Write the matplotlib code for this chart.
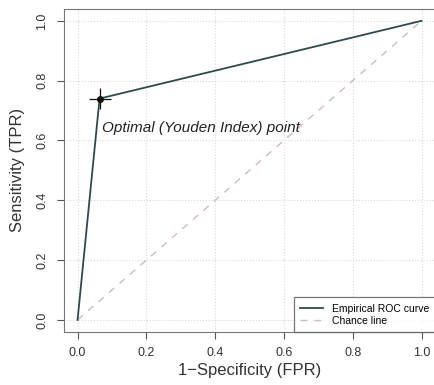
import numpy as np
import matplotlib.pyplot as plt

plt.rcParams['font.family'] = ['Liberation Sans', 'DejaVu Sans']

# empirical ROC points
fpr = [0.0, 0.064, 1.0]
tpr = [0.0, 0.74, 1.0]
chance = [0.0, 1.0]
opt_x = 0.064
opt_y = 0.74
ticks = [0.0, 0.2, 0.4, 0.6, 0.8, 1.0]
tick_labels = ['0.0', '0.2', '0.4', '0.6', '0.8', '1.0']

fig = plt.figure(figsize=(4.34, 3.85), dpi=100)
ax = fig.add_axes([0.147, 0.138, 0.856, 0.839])

ax.grid(True, linestyle=':', color='#d8d8d8', linewidth=0.8)
ax.plot(chance, chance, linestyle=(0, (5, 5)), color='#cdbcbc', linewidth=1.0, label='Chance line')
ax.plot(fpr, tpr, color='#2f4a48', linewidth=1.3, label='Empirical ROC curve')
ax.errorbar([opt_x], [opt_y], xerr=[0.032], yerr=[0.035], fmt='o', color='#111111',
            markersize=4, elinewidth=0.9, capsize=0)
ax.text(opt_x + 0.008, opt_y - 0.10, 'Optimal (Youden Index) point', style='italic',
        fontsize=11, color='#222222', va='center')

ax.set_xlim(-0.04, 1.04)
ax.set_ylim(-0.04, 1.04)
ax.set_xticks(ticks)
ax.set_xticklabels(tick_labels)
ax.set_yticks(ticks)
ax.set_yticklabels(tick_labels, rotation=90, va='center')
ax.tick_params(colors='#555555', labelcolor='#333333', labelsize=9, length=5, pad=6)
for s in ax.spines.values():
    s.set_color('#777777')
ax.set_xlabel('1\u2212Specificity (FPR)', fontsize=12, color='#333333', labelpad=3)
ax.set_ylabel('Sensitivity (TPR)', fontsize=12, color='#333333', labelpad=8)

handles, labels = ax.get_legend_handles_labels()
leg = ax.legend(handles[::-1], labels[::-1], loc='lower right', fontsize=7.5, frameon=True,
                fancybox=False, edgecolor='#555555', borderpad=0.6, handlelength=2.2,
                labelspacing=0.2, borderaxespad=0)
leg.get_frame().set_linewidth(0.9)

fig.savefig('out.png', dpi=100)
